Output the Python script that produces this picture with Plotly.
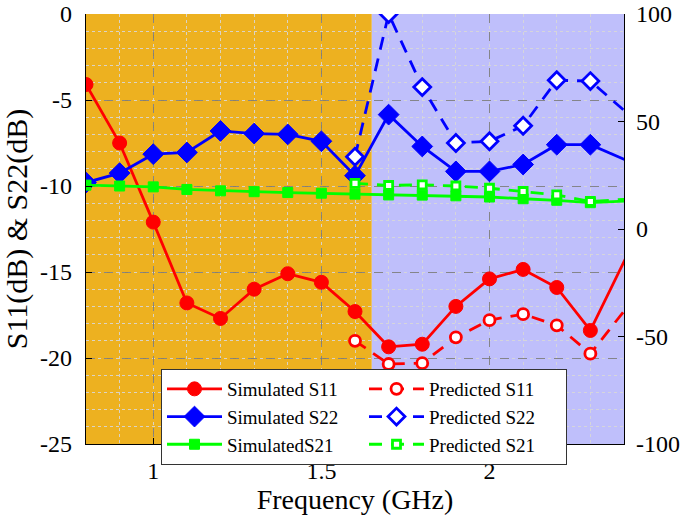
import plotly.graph_objects as go

freq = [0.8, 0.9, 1.0, 1.1, 1.2, 1.3, 1.4, 1.5, 1.6, 1.7, 1.8, 1.9, 2.0, 2.1, 2.2, 2.3, 2.5]
sim_s11 = [-4.1, -7.5, -12.1, -16.8, -17.7, -16.0, -15.1, -15.6, -17.3, -19.35, -19.2, -17.0, -15.4, -14.85, -15.9, -18.4, -10.4]
sim_s22 = [-9.8, -9.25, -8.15, -8.05, -6.8, -6.95, -7.0, -7.4, -9.4, -5.85, -7.7, -9.15, -9.15, -8.75, -7.6, -7.6, -9.3]
sim_s21 = [-9.95, -10.0, -10.05, -10.2, -10.28, -10.33, -10.38, -10.42, -10.47, -10.52, -10.53, -10.57, -10.64, -10.74, -10.83, -10.97, -10.8]

freq_pred = [1.6, 1.7, 1.8, 1.9, 2.0, 2.1, 2.2, 2.3, 2.5]
pred_s11 = [-19.0, -20.35, -20.3, -18.8, -17.8, -17.45, -18.1, -19.75, -14.8]
pred_s22 = [-8.3, 0.0, -4.25, -7.5, -7.4, -6.5, -3.85, -3.9, -7.3]
pred_s21 = [-9.85, -9.97, -9.93, -10.0, -10.13, -10.32, -10.52, -10.9, -10.65]

band_orange = [0.8, 1.65]
band_blue = [1.65, 2.4]

FONT = "Liberation Serif"
RED, BLUE, GREEN = "#ff0000", "#0000ff", "#00ff00"

fig = go.Figure()

def sim(x, y, name, color, symbol, size, rank):
    fig.add_trace(go.Scatter(x=x, y=y, name=name, mode="lines+markers",
                             line=dict(color=color, width=2.8),
                             marker=dict(symbol=symbol, size=size, color=color,
                                         line=dict(color=color, width=1)),
                             legendrank=rank))

def pred(x, y, name, color, symbol, size, rank):
    fig.add_trace(go.Scatter(x=x, y=y, name=name, mode="lines+markers",
                             line=dict(color=color, width=2.8, dash="13px,9px"),
                             marker=dict(symbol=symbol, size=size, color="white",
                                         line=dict(color=color, width=2.8)),
                             legendrank=rank))

sim(freq, sim_s11, "Simulated S11", RED, "circle", 14, 1)
sim(freq, sim_s22, "Simulated S22", BLUE, "diamond", 16, 3)
sim(freq, sim_s21, "SimulatedS21", GREEN, "square", 10, 5)
pred(freq_pred, pred_s11, "Predicted S11", RED, "circle", 11, 2)
pred(freq_pred, pred_s22, "Predicted S22", BLUE, "diamond", 13, 4)
pred(freq_pred, pred_s21, "Predicted S21", GREEN, "square", 8, 6)

# dummy trace to attach right axis
fig.add_trace(go.Scatter(x=[None], y=[None], yaxis="y2", showlegend=False, hoverinfo="skip"))

fig.add_shape(type="rect", xref="x", yref="paper", x0=band_orange[0], x1=band_orange[1], y0=0, y1=1,
              fillcolor="#EDB120", line_width=0, layer="below")
fig.add_shape(type="rect", xref="x", yref="paper", x0=band_blue[0], x1=band_blue[1], y0=0, y1=1,
              fillcolor="#BFBFFB", line_width=0, layer="below")

major_grid = "rgba(120,120,120,0.85)"
minor_grid = "rgba(215,215,215,0.9)"

fig.update_layout(
    width=683, height=515,
    margin=dict(l=86, r=59, t=14, b=71),
    paper_bgcolor="white", plot_bgcolor="white",
    font=dict(family=FONT, color="black", size=24),
    xaxis=dict(range=[0.8, 2.4], tickvals=[1, 1.5, 2], ticktext=["1", "1.5", "2"],
               ticks="inside", ticklen=6, tickcolor="black", automargin=False,
               showline=True, linecolor="black", linewidth=1.2, mirror=False,
               showgrid=True, gridcolor=major_grid, griddash="dash", gridwidth=1,
               minor=dict(dtick=0.1, tick0=0.8, showgrid=True, gridcolor=minor_grid,
                          griddash="dot", gridwidth=1),
               zeroline=False, tickfont=dict(size=24), ticklabelstandoff=5,
               ticklabeloverflow="allow",
               title=dict(text="Frequency (GHz)", font=dict(size=28), standoff=7)),
    yaxis=dict(range=[-25, 0], tickvals=[0, -5, -10, -15, -20, -25],
               ticktext=["0", "-5", "-10", "-15", "-20", "-25"],
               ticks="inside", ticklen=6, tickcolor="black", automargin=False,
               showline=True, linecolor="black", linewidth=1.2,
               showgrid=True, gridcolor=major_grid, griddash="dash", gridwidth=1,
               minor=dict(dtick=1, tick0=0, showgrid=True, gridcolor=minor_grid,
                          griddash="dot", gridwidth=1),
               zeroline=False, tickfont=dict(size=24), ticklabelstandoff=8,
               ticklabeloverflow="allow",
               title=dict(text="S11(dB) & S22(dB)", font=dict(size=30), standoff=8)),
    yaxis2=dict(range=[-100, 100], overlaying="y", side="right",
                tickvals=[100, 50, 0, -50, -100], ticktext=["100", "50", "0", "-50", "-100"],
                ticks="inside", ticklen=6, tickcolor="black", automargin=False,
                showline=True, linecolor="black", linewidth=1.2,
                showgrid=False, zeroline=False, tickfont=dict(size=24), ticklabelstandoff=6,
                ticklabeloverflow="allow"),
    legend=dict(orientation="h", x=0.1394, y=0.1744, xanchor="left", yanchor="top",
                bgcolor="white", bordercolor="#333333", borderwidth=1,
                font=dict(size=19, family=FONT), itemwidth=55,
                entrywidth=132, entrywidthmode="pixels", tracegroupgap=0,
                traceorder="normal"),
    showlegend=True,
)

# remove the default 8px page margin so the figure fills the window exactly
fig.write_html("out.html", config={"displayModeBar": False},
               post_script="document.body.style.margin='0px';")
